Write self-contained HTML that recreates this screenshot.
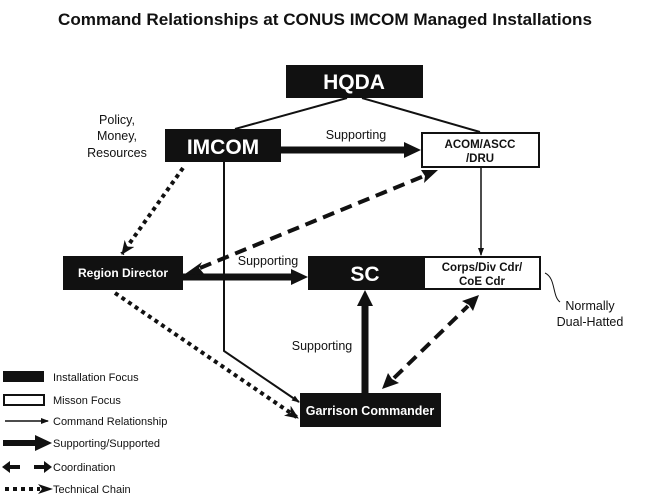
<!DOCTYPE html>
<html><head><meta charset="utf-8"><style>
html,body{margin:0;padding:0;background:#fff;}
svg{display:block;font-family:"Liberation Sans",Arial,sans-serif;}
</style></head><body>
<svg width="650" height="499" viewBox="0 0 650 499" xmlns="http://www.w3.org/2000/svg">
<defs>
<marker id="thin" markerWidth="8" markerHeight="8" refX="7" refY="4" orient="auto" markerUnits="userSpaceOnUse"><path d="M0,1 L8,4 L0,7 Z" fill="#111"/></marker>
<marker id="dash" markerWidth="16" markerHeight="14" refX="15" refY="7" orient="auto" markerUnits="userSpaceOnUse"><path d="M0,0 L16,7 L0,14 L4,7 Z" fill="#111"/></marker>
<marker id="dot" markerWidth="14" markerHeight="12" refX="13" refY="6" orient="auto" markerUnits="userSpaceOnUse"><path d="M0,0 L14,6 L0,12 L4,6 Z" fill="#111"/></marker>
</defs>
<text x="325" y="25" text-anchor="middle" font-size="17" font-weight="bold" fill="#111" textLength="534" lengthAdjust="spacingAndGlyphs">Command Relationships at CONUS IMCOM Managed Installations</text>

<!-- HQDA lines -->
<line x1="347" y1="98" x2="235" y2="129" stroke="#111" stroke-width="2"/>
<line x1="362" y1="98" x2="480" y2="132" stroke="#111" stroke-width="2"/>

<!-- boxes -->
<rect x="286" y="65" width="137" height="33" fill="#111"/>
<text x="354" y="89" text-anchor="middle" font-size="21" font-weight="bold" fill="#fff">HQDA</text>
<rect x="165" y="129" width="116" height="33" fill="#111"/>
<text x="223" y="154" text-anchor="middle" font-size="21" font-weight="bold" fill="#fff">IMCOM</text>
<rect x="422" y="133" width="117" height="34" fill="#fff" stroke="#111" stroke-width="2"/>
<text x="480" y="148" text-anchor="middle" font-size="11.5" font-weight="bold" fill="#111">ACOM/ASCC</text>
<text x="480" y="162" text-anchor="middle" font-size="11.5" font-weight="bold" fill="#111">/DRU</text>
<rect x="63" y="256" width="120" height="34" fill="#111"/>
<text x="123" y="277" text-anchor="middle" font-size="12" font-weight="bold" fill="#fff">Region Director</text>
<rect x="308" y="256" width="233" height="34" fill="#111"/>
<rect x="425" y="258" width="114" height="30" fill="#fff"/>
<text x="365" y="281" text-anchor="middle" font-size="21" font-weight="bold" fill="#fff">SC</text>
<text x="482" y="271" text-anchor="middle" font-size="11.5" font-weight="bold" fill="#111">Corps/Div Cdr/</text>
<text x="482" y="285" text-anchor="middle" font-size="11.5" font-weight="bold" fill="#111">CoE Cdr</text>
<rect x="300" y="393" width="141" height="34" fill="#111"/>
<text x="370" y="415" text-anchor="middle" font-size="12.5" font-weight="bold" fill="#fff">Garrison Commander</text>

<!-- labels -->
<text x="117" y="124" text-anchor="middle" font-size="12.5" fill="#111">Policy,</text>
<text x="117" y="140" text-anchor="middle" font-size="12.5" fill="#111">Money,</text>
<text x="117" y="157" text-anchor="middle" font-size="12.5" fill="#111">Resources</text>
<text x="356" y="139" text-anchor="middle" font-size="12.5" fill="#111">Supporting</text>
<text x="268" y="265" text-anchor="middle" font-size="12.5" fill="#111">Supporting</text>
<text x="322" y="350" text-anchor="middle" font-size="12.5" fill="#111">Supporting</text>
<text x="590" y="310" text-anchor="middle" font-size="12.5" fill="#111">Normally</text>
<text x="590" y="326" text-anchor="middle" font-size="12.5" fill="#111">Dual-Hatted</text>
<path d="M545,273 C556,278 552,296 560,302" fill="none" stroke="#111" stroke-width="1"/>

<!-- thick supporting arrows -->
<line x1="281" y1="150" x2="406" y2="150" stroke="#111" stroke-width="7"/>
<path d="M404,142 L421,150 L404,158 Z" fill="#111"/>
<line x1="183" y1="277" x2="293" y2="277" stroke="#111" stroke-width="7"/>
<path d="M291,269 L308,277 L291,285 Z" fill="#111"/>
<line x1="365" y1="393" x2="365" y2="304" stroke="#111" stroke-width="7"/>
<path d="M357,306 L365,290 L373,306 Z" fill="#111"/>

<!-- command lines -->
<line x1="481" y1="167" x2="481" y2="255" stroke="#111" stroke-width="1.5" marker-end="url(#thin)"/>
<polyline points="224,162 224,351 299,402" fill="none" stroke="#111" stroke-width="2" marker-end="url(#thin)"/>

<!-- coordination dashed -->
<line x1="200" y1="268" x2="424" y2="176" stroke="#111" stroke-width="4" stroke-dasharray="12,7"/>
<path d="M185,274 L202,262 L199,268 L205,275 Z" fill="#111"/>
<path d="M438,170 L421,170 L425,176 L424,183 Z" fill="#111"/>
<line x1="394" y1="378" x2="468" y2="306" stroke="#111" stroke-width="4" stroke-dasharray="12,7"/>
<path d="M382,389 L388,373 L392,379 L399,383 Z" fill="#111"/>
<path d="M479,295 L473,311 L469,305 L462,301 Z" fill="#111"/>

<!-- technical chain dotted -->
<line x1="183" y1="168" x2="122" y2="254" stroke="#111" stroke-width="4" stroke-dasharray="4,4" marker-end="url(#dot)"/>
<line x1="115" y1="293" x2="298" y2="418" stroke="#111" stroke-width="4" stroke-dasharray="4,4" marker-end="url(#dot)"/>

<!-- legend -->
<rect x="3" y="371" width="41" height="11" fill="#111"/>
<text x="53" y="381" font-size="11" fill="#111">Installation Focus</text>
<rect x="4" y="395" width="40" height="10" fill="#fff" stroke="#111" stroke-width="2"/>
<text x="53" y="404" font-size="11" fill="#111">Misson Focus</text>
<line x1="5" y1="421" x2="48" y2="421" stroke="#111" stroke-width="1.5" marker-end="url(#thin)"/>
<text x="53" y="425" font-size="11" fill="#111">Command Relationship</text>
<line x1="3" y1="443" x2="36" y2="443" stroke="#111" stroke-width="6"/>
<path d="M35,435 L52,443 L35,451 Z" fill="#111"/>
<text x="53" y="447" font-size="11" fill="#111">Supporting/Supported</text>
<path d="M2,467 L10,461 L10,465 L20,465 L20,469 L10,469 L10,473 Z" fill="#111"/>
<path d="M52,467 L44,461 L44,465 L34,465 L34,469 L44,469 L44,473 Z" fill="#111"/>
<text x="53" y="471" font-size="11" fill="#111">Coordination</text>
<line x1="5" y1="489" x2="40" y2="489" stroke="#111" stroke-width="4" stroke-dasharray="4,4"/>
<path d="M38,484 L53,489 L38,494 L42,489 Z" fill="#111"/>
<text x="53" y="493" font-size="11" fill="#111">Technical Chain</text>
</svg>
</body></html>
